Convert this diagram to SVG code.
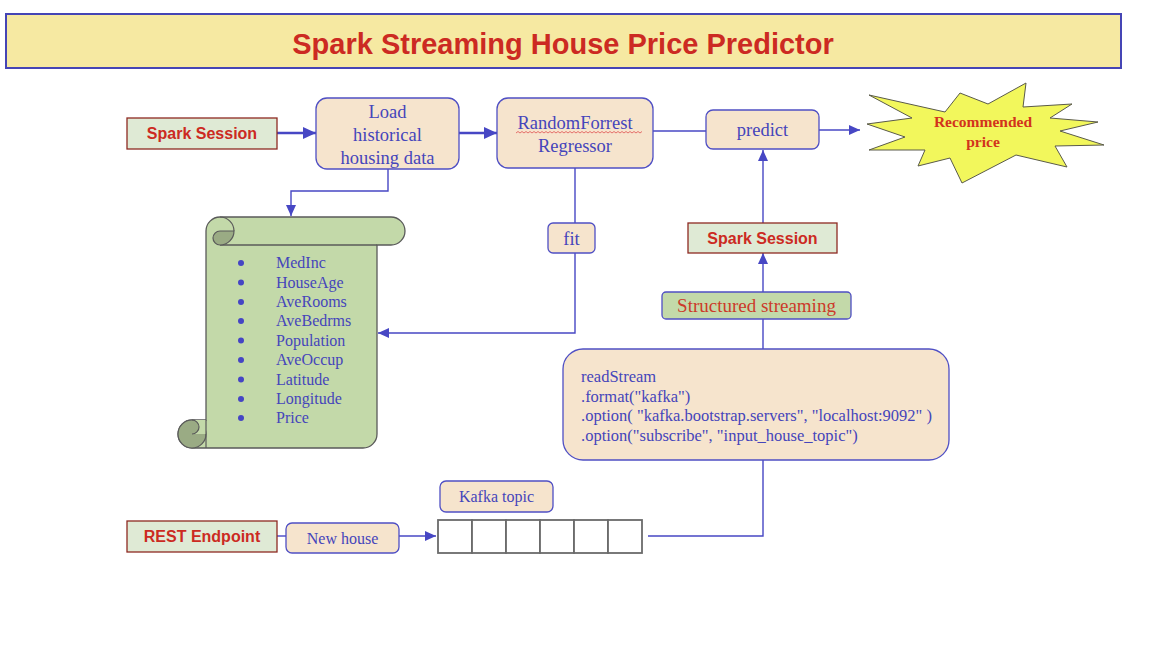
<svg xmlns="http://www.w3.org/2000/svg" width="1153" height="649" viewBox="0 0 1153 649">
<defs>
<style>
.box{fill:#f6e4cd;stroke:#4f4fc4;stroke-width:1.3}
.ss{fill:#dfead5;stroke:#8e2a22;stroke-width:1.3}
.lbl{font-family:"Liberation Serif",serif;fill:#4545bb;text-anchor:middle}
.red{font-family:"Liberation Sans",Arial,sans-serif;font-weight:bold;fill:#cc2a22;text-anchor:middle}
.item{font-family:"Liberation Serif",serif;font-size:16px;fill:#4545bb}
.code{font-family:"Liberation Serif",serif;font-size:16.5px;fill:#4545bb}
.conn{fill:none;stroke:#4747c4;stroke-width:1.4}
.thick{fill:none;stroke:#4747c4;stroke-width:2.6}
.cell{fill:#ffffff;stroke:#6b6b6b;stroke-width:1.8}
</style>
<marker id="ah" markerUnits="userSpaceOnUse" markerWidth="12" markerHeight="10" refX="11" refY="5" orient="auto">
<path d="M0,0 L11,5 L0,10 z" fill="#4747c4"/>
</marker>
<marker id="ahb" markerUnits="userSpaceOnUse" markerWidth="14" markerHeight="12" refX="13" refY="6" orient="auto">
<path d="M0,0 L13,6 L0,12 z" fill="#4747c4"/>
</marker>
</defs>
<rect width="1153" height="649" fill="#ffffff"/>

<g id="title">
<rect x="6" y="14" width="1115" height="54" fill="#f6e9a2" stroke="#4545b5" stroke-width="2"/>
<text x="563" y="54" class="red" font-size="29">Spark Streaming House Price Predictor</text>
</g>

<g id="connectors">
<path class="thick" d="M277 133 H316" marker-end="url(#ahb)"/>
<path class="thick" d="M459 133 H497" marker-end="url(#ahb)"/>
<path class="conn" d="M653 131 H706"/>
<path class="conn" d="M819 130 H860" marker-end="url(#ah)"/>
<path class="conn" d="M388 169 V191 H291 V216" marker-end="url(#ah)"/>
<path class="conn" d="M575 168 V223"/>
<path class="conn" d="M575 253 V333 H378" marker-end="url(#ah)"/>
<path class="conn" d="M763 223 V150" marker-end="url(#ah)"/>
<path class="conn" d="M763 292 V253" marker-end="url(#ah)"/>
<path class="conn" d="M763 349 V319"/>
<path class="conn" d="M648 536 H763 V460"/>
<path class="conn" d="M277 536 H286"/>
<path class="conn" d="M399 536 H436" marker-end="url(#ah)"/>
</g>

<g id="spark-session-1">
<rect x="127" y="118" width="150" height="31" class="ss"/>
<text x="202" y="139" class="red" font-size="16">Spark Session</text>
</g>

<g id="load">
<rect x="316" y="98" width="143" height="71" rx="11" class="box"/>
<text class="lbl" font-size="18.5"><tspan x="387.5" y="118">Load</tspan><tspan x="387.5" y="141">historical</tspan><tspan x="387.5" y="164">housing data</tspan></text>
</g>

<g id="regressor">
<rect x="497" y="98" width="156" height="70" rx="11" class="box"/>
<text class="lbl" font-size="18.5"><tspan x="575" y="129">RandomForrest</tspan><tspan x="575" y="152">Regressor</tspan></text>
<path d="M516 133 l2,-1.5 2,1.5 2,-1.5 2,1.5 2,-1.5 2,1.5 2,-1.5 2,1.5 2,-1.5 2,1.5 2,-1.5 2,1.5 2,-1.5 2,1.5 2,-1.5 2,1.5 2,-1.5 2,1.5 2,-1.5 2,1.5 2,-1.5 2,1.5 2,-1.5 2,1.5 2,-1.5 2,1.5 2,-1.5 2,1.5 2,-1.5 2,1.5 2,-1.5 2,1.5 2,-1.5 2,1.5 2,-1.5 2,1.5 2,-1.5 2,1.5 2,-1.5 2,1.5 2,-1.5 2,1.5 2,-1.5 2,1.5 2,-1.5 2,1.5 2,-1.5 2,1.5 2,-1.5 2,1.5 2,-1.5 2,1.5 2,-1.5 2,1.5 2,-1.5 2,1.5 2,-1.5 2,1.5 2,-1.5 2,1.5 2,-1.5 2,1.5 2,-1.5" fill="none" stroke="#e05050" stroke-width="0.8"/>
</g>

<g id="predict">
<rect x="706" y="110" width="113" height="39" rx="7" class="box"/>
<text x="762.5" y="136" class="lbl" font-size="18.5">predict</text>
</g>

<g id="recommended-price">
<polygon points="869,95 945,112 960,93 988,104 1026,83 1023,107 1072,104 1050,118 1098,122 1060,131 1104,145 1055,146 1067,167 1016,155 962,183 950,158 918,166 925,150 869,150 905,137 867,124 912,118" fill="#f2f75c" stroke="#5a5a4a" stroke-width="1"/>
<text font-family="'Liberation Serif',serif" font-weight="bold" font-size="15.5" fill="#d2331c" text-anchor="middle"><tspan x="983" y="127">Recommended</tspan><tspan x="983" y="147">price</tspan></text>
</g>

<g id="features-scroll">
<path d="M206 231 A14 14 0 0 1 220 217 H391 A14 14 0 0 1 391 245 H377 V434 A14 14 0 0 1 363 448 H192 A14 14 0 0 1 192 420 H206 Z" fill="#c3d9a9" stroke="#5a5a5a" stroke-width="1.3"/>
<path d="M220 245 H377" fill="none" stroke="#5a5a5a" stroke-width="1.3"/>
<path d="M234 231 A14 14 0 0 1 220 245 A7 7 0 0 1 220 231 Z" fill="#9aab84" stroke="#5a5a5a" stroke-width="1.2"/>
<path d="M220 217 A14 14 0 0 1 234 231" fill="none" stroke="#5a5a5a" stroke-width="1.2"/>
<circle cx="192" cy="434" r="14" fill="#9aab84" stroke="#5a5a5a" stroke-width="1.2"/>
<path d="M192 420 H206 V434 H192 A7 7 0 0 0 192 420 Z" fill="#c3d9a9" stroke="none"/>
<path d="M192 420 A7 7 0 0 1 192 434" fill="none" stroke="#5a5a5a" stroke-width="1.2"/>
<path d="M206 420 V448" fill="none" stroke="#5a5a5a" stroke-width="1.2"/>
<g fill="#4545c4">
<circle cx="241" cy="263" r="3"/><circle cx="241" cy="282.5" r="3"/><circle cx="241" cy="302" r="3"/><circle cx="241" cy="321" r="3"/><circle cx="241" cy="340.5" r="3"/><circle cx="241" cy="360" r="3"/><circle cx="241" cy="379.5" r="3"/><circle cx="241" cy="399" r="3"/><circle cx="241" cy="418" r="3"/>
</g>
<text class="item"><tspan x="276" y="268">MedInc</tspan><tspan x="276" y="287.5">HouseAge</tspan><tspan x="276" y="307">AveRooms</tspan><tspan x="276" y="326">AveBedrms</tspan><tspan x="276" y="345.5">Population</tspan><tspan x="276" y="365">AveOccup</tspan><tspan x="276" y="384.5">Latitude</tspan><tspan x="276" y="404">Longitude</tspan><tspan x="276" y="423">Price</tspan></text>
</g>

<g id="fit">
<rect x="548" y="223" width="47" height="30" rx="5" class="box"/>
<text x="571.5" y="245" class="lbl" font-size="18.5">fit</text>
</g>

<g id="spark-session-2">
<rect x="688" y="223" width="149" height="30" class="ss"/>
<text x="762.5" y="244" class="red" font-size="16">Spark Session</text>
</g>

<g id="structured-streaming">
<rect x="662" y="292" width="189" height="27" rx="4" fill="#c3d9a9" stroke="#4f4fc4" stroke-width="1.3"/>
<text x="756.5" y="312" font-family="'Liberation Serif',serif" font-size="19" fill="#cc3a2a" text-anchor="middle">Structured streaming</text>
</g>

<g id="read-stream">
<rect x="563" y="349" width="386" height="111" rx="20" class="box"/>
<text class="code"><tspan x="581" y="382">readStream</tspan><tspan x="581" y="401.5">.format("kafka")</tspan><tspan x="581" y="421">.option( "kafka.bootstrap.servers", "localhost:9092" )</tspan><tspan x="581" y="440.5">.option("subscribe", "input_house_topic")</tspan></text>
</g>

<g id="rest-endpoint">
<rect x="127" y="521" width="150" height="31" class="ss"/>
<text x="202" y="542" class="red" font-size="16">REST Endpoint</text>
</g>

<g id="new-house">
<rect x="286" y="523" width="113" height="30" rx="6" class="box"/>
<text x="342.5" y="544" class="lbl" font-size="16">New house</text>
</g>

<g id="kafka-topic">
<rect x="440" y="481" width="113" height="31" rx="6" class="box"/>
<text x="496.5" y="502" class="lbl" font-size="16">Kafka topic</text>
</g>

<g id="queue">
<rect x="438" y="520" width="34" height="33" class="cell"/>
<rect x="472" y="520" width="34" height="33" class="cell"/>
<rect x="506" y="520" width="34" height="33" class="cell"/>
<rect x="540" y="520" width="34" height="33" class="cell"/>
<rect x="574" y="520" width="34" height="33" class="cell"/>
<rect x="608" y="520" width="34" height="33" class="cell"/>
</g>
</svg>
